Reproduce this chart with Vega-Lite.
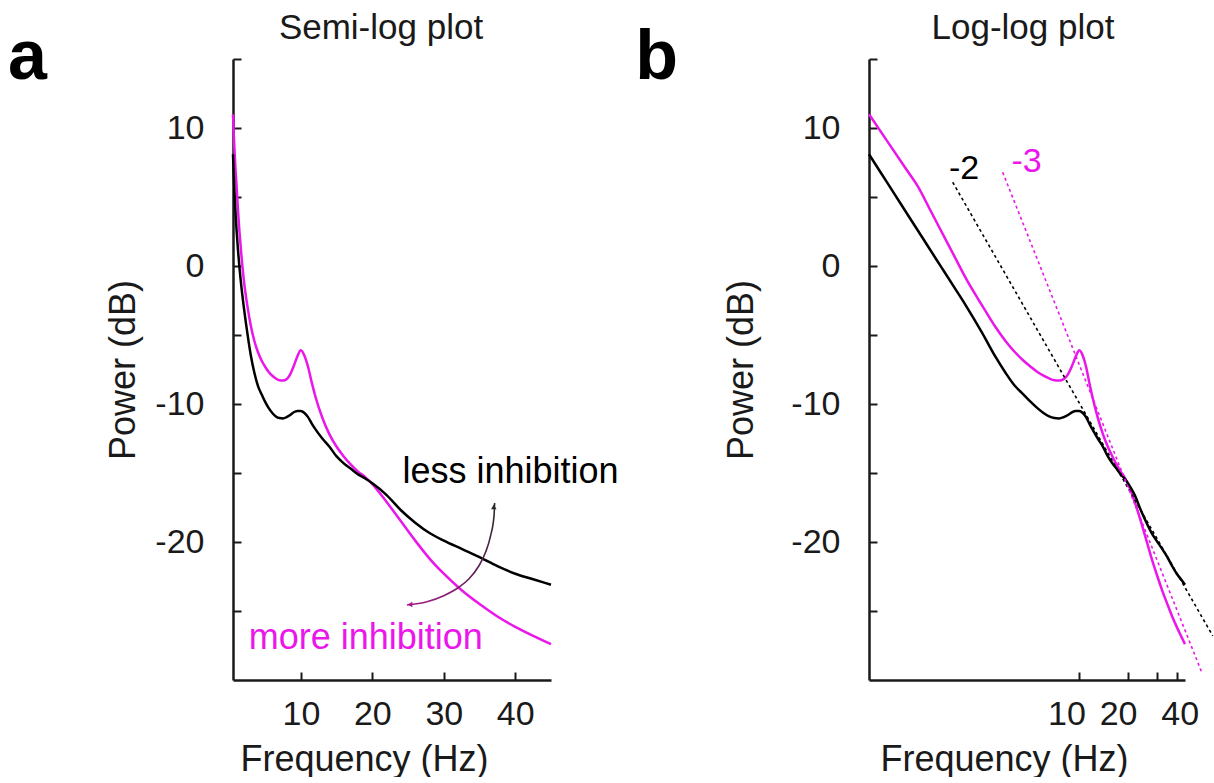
{
  "$schema": "https://vega.github.io/schema/vega-lite/v6.json",
  "padding": {"left": 7, "top": 11, "right": 0, "bottom": 0},
  "background": "white",
  "bounds": "flush",
  "spacing": 318,
  "datasets": {
    "spectra": [
      {"f": 0.5, "less": 8.1, "more": 11.0},
      {"f": 0.6, "less": 6.65, "more": 9.63},
      {"f": 0.7, "less": 5.43, "more": 8.47},
      {"f": 0.85, "less": 3.88, "more": 7.01},
      {"f": 1.0, "less": 2.59, "more": 5.79},
      {"f": 1.2, "less": 1.14, "more": 4.02},
      {"f": 1.4, "less": -0.08, "more": 2.52},
      {"f": 1.7, "less": -1.62, "more": 0.63},
      {"f": 2.0, "less": -2.92, "more": -0.95},
      {"f": 2.5, "less": -4.83, "more": -2.85},
      {"f": 3.0, "less": -6.5, "more": -4.35},
      {"f": 3.5, "less": -7.75, "more": -5.45},
      {"f": 4.0, "less": -8.7, "more": -6.25},
      {"f": 4.5, "less": -9.3, "more": -6.85},
      {"f": 5.0, "less": -9.85, "more": -7.3},
      {"f": 5.5, "less": -10.3, "more": -7.68},
      {"f": 6.0, "less": -10.65, "more": -7.95},
      {"f": 6.5, "less": -10.9, "more": -8.15},
      {"f": 7.0, "less": -11.02, "more": -8.28},
      {"f": 7.5, "less": -11.05, "more": -8.3},
      {"f": 8.0, "less": -10.95, "more": -8.2},
      {"f": 8.5, "less": -10.8, "more": -7.85},
      {"f": 9.0, "less": -10.6, "more": -7.25},
      {"f": 9.5, "less": -10.5, "more": -6.55},
      {"f": 10.0, "less": -10.5, "more": -6.1},
      {"f": 10.5, "less": -10.65, "more": -6.5},
      {"f": 11.0, "less": -10.95, "more": -7.3},
      {"f": 11.5, "less": -11.4, "more": -8.4},
      {"f": 12.0, "less": -11.8, "more": -9.4},
      {"f": 13.0, "less": -12.5, "more": -11.0},
      {"f": 14.0, "less": -13.1, "more": -12.2},
      {"f": 15.0, "less": -13.8, "more": -13.1},
      {"f": 16.0, "less": -14.3, "more": -13.8},
      {"f": 17.0, "less": -14.7, "more": -14.4},
      {"f": 18.0, "less": -15.1, "more": -14.9},
      {"f": 19.0, "less": -15.4, "more": -15.3},
      {"f": 20.0, "less": -15.75, "more": -15.8},
      {"f": 22.0, "less": -16.6, "more": -17.1},
      {"f": 24.0, "less": -17.7, "more": -18.5},
      {"f": 26.0, "less": -18.6, "more": -19.9},
      {"f": 28.0, "less": -19.35, "more": -21.2},
      {"f": 30.0, "less": -19.9, "more": -22.3},
      {"f": 32.5, "less": -20.5, "more": -23.5},
      {"f": 35.0, "less": -21.1, "more": -24.5},
      {"f": 37.5, "less": -21.75, "more": -25.4},
      {"f": 40.0, "less": -22.3, "more": -26.15},
      {"f": 42.5, "less": -22.7, "more": -26.8},
      {"f": 45.0, "less": -23.1, "more": -27.4}
    ],
    "arrow": [
      {"f": 37.11, "db": -17.17},
      {"f": 37.03, "db": -18.09},
      {"f": 36.55, "db": -19.54},
      {"f": 35.84, "db": -20.75},
      {"f": 34.92, "db": -21.72},
      {"f": 33.5, "db": -22.68},
      {"f": 32.1, "db": -23.28},
      {"f": 29.99, "db": -23.89},
      {"f": 27.64, "db": -24.33},
      {"f": 24.83, "db": -24.57}
    ],
    "arrowTop": [{"f": 36.99, "db": -17.46}],
    "arrowLeft": [{"f": 25.27, "db": -24.53}],
    "notesA": [
      {"label": "less inhibition", "condition": "less", "f": 24.22, "db": -15.72},
      {"label": "more inhibition", "condition": "more", "f": 2.7, "db": -27.75}
    ],
    "fits": [
      {"condition": "less", "f": 1.647, "db": 6.07},
      {"condition": "less", "f": 66.8, "db": -26.8},
      {"condition": "more", "f": 3.355, "db": 6.79},
      {"condition": "more", "f": 57.1, "db": -29.44}
    ],
    "slopeLabels": [
      {"label": "-2", "condition": "less", "f": 1.934, "db": 6.3},
      {"label": "-3", "condition": "more", "f": 4.71, "db": 6.81}
    ],
    "letterA": [{"label": "a", "f": -31.0, "db": 13.55}],
    "letterB": [{"label": "b", "f": 0.0179, "db": 13.55}]
  },
  "hconcat": [
    {
      "width": 318,
      "height": 621,
      "title": {"text": "Semi-log plot", "frame": "group", "offset": -51, "dx": -11, "baseline": "alphabetic"},
      "encoding": {
        "x": {
          "field": "f", "type": "quantitative",
          "scale": {"domain": [0.5, 45], "nice": false, "zero": false},
          "axis": {"values": [10, 20, 30, 40], "title": "Frequency (Hz)", "labelPadding": 25, "titleX": 131, "titleY": 90, "titleBaseline": "alphabetic"}
        },
        "y": {
          "field": "db", "type": "quantitative",
          "scale": {"domain": [-30, 15], "nice": false, "zero": false},
          "axis": {"values": [-25, -20, -15, -10, -5, 0, 5, 10, 15], "labelExpr": "datum.value % 10 === 0 && datum.value < 15 ? '' + datum.value : ''", "title": "Power (dB)", "labelPadding": 37, "titleX": -99, "titleBaseline": "alphabetic"}
        }
      },
      "layer": [
        {
          "data": {"name": "spectra"},
          "transform": [{"fold": ["more"], "as": ["condition", "db"]}],
          "mark": {"type": "line", "strokeWidth": 2.5, "interpolate": "monotone"},
          "encoding": {"color": {"field": "condition", "type": "nominal", "scale": {"domain": ["less", "more"], "range": ["#000000", "#ea16ea"]}, "legend": null}}
        },
        {
          "data": {"name": "spectra"},
          "transform": [{"fold": ["less"], "as": ["condition", "db"]}],
          "mark": {"type": "line", "strokeWidth": 2.5, "interpolate": "monotone"},
          "encoding": {"color": {"field": "condition", "type": "nominal", "legend": null}}
        },
        {
          "data": {"name": "arrow"},
          "mark": {"type": "line", "strokeWidth": 1.6, "interpolate": "monotone", "color": {"gradient": "linear", "x1": 1, "y1": 0, "x2": 0, "y2": 1, "stops": [{"offset": 0, "color": "#2a2a2a"}, {"offset": 1, "color": "#a8188c"}]}},
          "encoding": {}
        },
        {
          "data": {"name": "arrowTop"},
          "mark": {"type": "point", "shape": "triangle-up", "filled": true, "size": 30, "color": "#2a2a2a", "opacity": 1},
          "encoding": {}
        },
        {
          "data": {"name": "arrowLeft"},
          "mark": {"type": "point", "shape": "triangle-left", "filled": true, "size": 30, "color": "#a8188c", "opacity": 1},
          "encoding": {}
        },
        {
          "data": {"name": "notesA"},
          "mark": {"type": "text", "fontSize": 36, "align": "left", "baseline": "alphabetic"},
          "encoding": {"text": {"field": "label"}, "color": {"field": "condition", "type": "nominal", "legend": null}}
        },
        {
          "data": {"name": "letterA"},
          "mark": {"type": "text", "fontSize": 70, "fontWeight": "bold", "align": "left", "baseline": "alphabetic", "color": "#000000"},
          "encoding": {"text": {"field": "label"}}
        }
      ]
    },
    {
      "width": 316,
      "height": 621,
      "title": {"text": "Log-log plot", "frame": "group", "offset": -51, "dx": -4, "baseline": "alphabetic"},
      "encoding": {
        "x": {
          "field": "f", "type": "quantitative",
          "scale": {"type": "log", "domain": [0.5, 45], "nice": false},
          "axis": {
            "values": [10, 20, 30, 40],
            "labelExpr": "datum.value === 30 ? '' : '' + datum.value",
            "labelOffset": {"condition": [{"test": "datum.value === 10", "value": -13}, {"test": "datum.value === 20", "value": -10}], "value": 3},
            "title": "Frequency (Hz)", "labelPadding": 25, "titleX": 135, "titleY": 90, "titleBaseline": "alphabetic"
          }
        },
        "y": {
          "field": "db", "type": "quantitative",
          "scale": {"domain": [-30, 15], "nice": false, "zero": false},
          "axis": {"values": [-25, -20, -15, -10, -5, 0, 5, 10, 15], "labelExpr": "datum.value % 10 === 0 && datum.value < 15 ? '' + datum.value : ''", "title": "Power (dB)", "labelPadding": 37, "titleX": -117, "titleBaseline": "alphabetic"}
        }
      },
      "layer": [
        {
          "data": {"name": "spectra"},
          "transform": [{"fold": ["more"], "as": ["condition", "db"]}],
          "mark": {"type": "line", "strokeWidth": 2.5, "interpolate": "monotone"},
          "encoding": {"color": {"field": "condition", "type": "nominal", "scale": {"domain": ["less", "more"], "range": ["#000000", "#ea16ea"]}, "legend": null}}
        },
        {
          "data": {"name": "spectra"},
          "transform": [{"fold": ["less"], "as": ["condition", "db"]}],
          "mark": {"type": "line", "strokeWidth": 2.5, "interpolate": "monotone"},
          "encoding": {"color": {"field": "condition", "type": "nominal", "legend": null}}
        },
        {
          "data": {"name": "fits"},
          "mark": {"type": "line", "strokeWidth": 1.6, "strokeDash": [3, 3]},
          "encoding": {"color": {"field": "condition", "type": "nominal", "legend": null}}
        },
        {
          "data": {"name": "slopeLabels"},
          "mark": {"type": "text", "fontSize": 34, "align": "center", "baseline": "alphabetic"},
          "encoding": {"text": {"field": "label"}, "color": {"field": "condition", "type": "nominal", "legend": null}}
        },
        {
          "data": {"name": "letterB"},
          "mark": {"type": "text", "fontSize": 70, "fontWeight": "bold", "align": "left", "baseline": "alphabetic", "color": "#000000"},
          "encoding": {"text": {"field": "label"}}
        }
      ]
    }
  ],
  "config": {
    "view": {"stroke": null},
    "font": "Liberation Sans",
    "axis": {
      "grid": false,
      "domainColor": "#1a1a1a", "domainWidth": 2.5,
      "tickColor": "#1a1a1a", "tickWidth": 2, "tickSize": -8,
      "labelFont": "Liberation Sans", "labelFontSize": 34, "labelColor": "#1a1a1a",
      "titleFont": "Liberation Sans", "titleFontSize": 36, "titleFontWeight": "normal", "titleColor": "#1a1a1a"
    },
    "title": {"font": "Liberation Sans", "fontSize": 35, "fontWeight": "normal", "color": "#1a1a1a"},
    "text": {"font": "Liberation Sans"}
  }
}
